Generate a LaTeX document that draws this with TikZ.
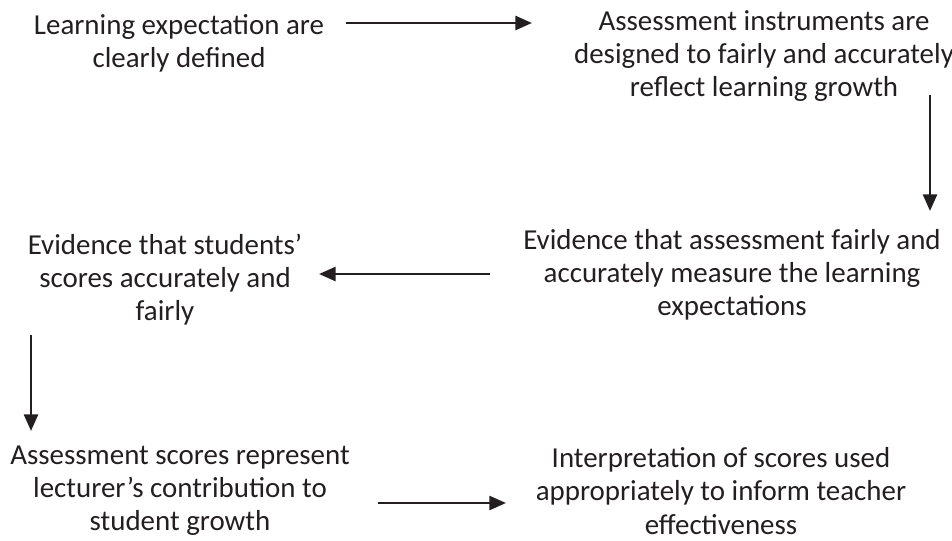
\documentclass[tikz,border=0pt]{standalone}
\usepackage{fontspec}
\setmainfont{Carlito}
\usetikzlibrary{arrows.meta}
\definecolor{txt}{HTML}{231F20}
\begin{document}
\begin{tikzpicture}[x=0.75pt,y=-0.75pt,
  lbl/.style={align=center,font=\fontsize{21.7}{24.8}\selectfont,text=txt,inner sep=0pt},
  flow/.style={draw=txt,line width=2pt,-{Triangle[length=12.5pt,width=10.5pt]}}]
\useasboundingbox (0,0) rectangle (952,540);
\node[lbl] (n1) at (179,43) {Learning expectation are\\clearly defined};
\node[lbl] (n2) at (764,56) {Assessment instruments are\\designed to fairly and accurately\\reflect learning growth};
\node[lbl] (n3) at (732,275) {Evidence that assessment fairly and\\accurately measure the learning\\expectations};
\node[lbl] (n4) at (165,280) {Evidence that students’\\scores accurately and\\fairly};
\node[lbl] (n5) at (180,491) {Assessment scores represent\\lecturer’s contribution to\\student growth};
\node[lbl] (n6) at (721,491) {Interpretation of scores used\\appropriately to inform teacher\\effectiveness};
\coordinate (a1s) at (346,23);
\coordinate (a1e) at (532,23);
\coordinate (a2s) at (930,95);
\coordinate (a2e) at (930,211);
\coordinate (a3s) at (490,274);
\coordinate (a3e) at (319,274);
\coordinate (a4s) at (31,335);
\coordinate (a4e) at (31,431);
\coordinate (a5s) at (378,503);
\coordinate (a5e) at (506,503);
\draw[flow] (a1s) -- (a1e);
\draw[flow] (a2s) -- (a2e);
\draw[flow] (a3s) -- (a3e);
\draw[flow] (a4s) -- (a4e);
\draw[flow] (a5s) -- (a5e);
\end{tikzpicture}
\end{document}
